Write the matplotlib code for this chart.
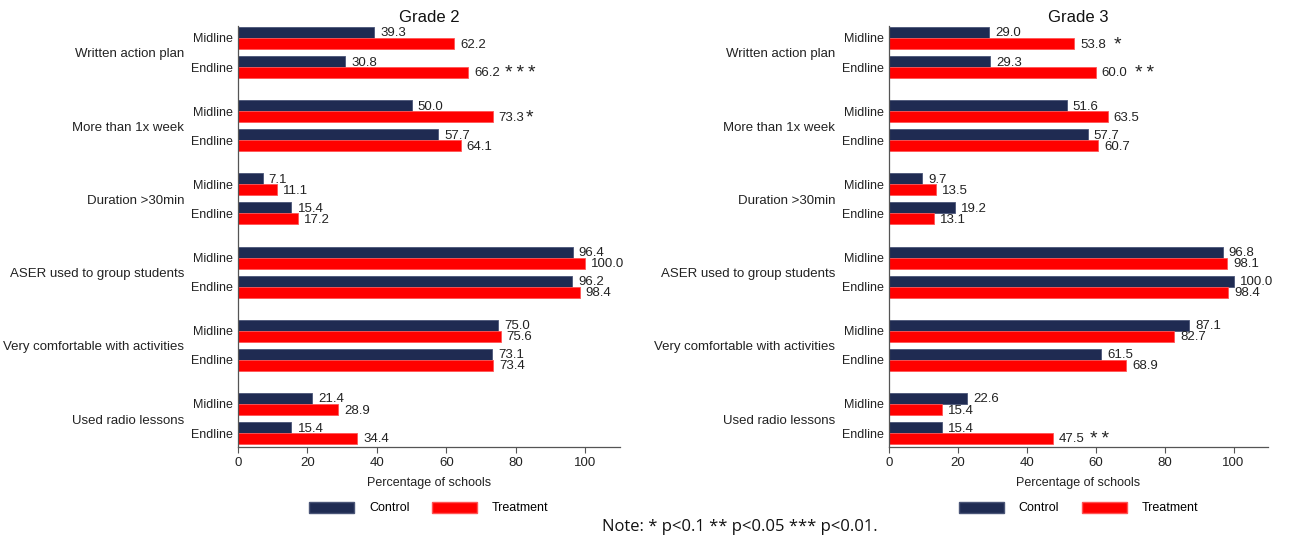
import numpy as np
import matplotlib
matplotlib.use("Agg")
from matplotlib import pyplot as plt

plt.rcParams['font.family'] = ['Liberation Sans', 'DejaVu Sans']

# indicators, top to bottom
indicators = ['Written action plan', 'More than 1x week', 'Duration >30min',
              'ASER used to group students', 'Very comfortable with activities',
              'Used radio lessons']
rounds = ['Midline', 'Endline']

# Grade 2: [midline, endline] per indicator
g2_control = [[39.3, 30.8], [50.0, 57.7], [7.1, 15.4], [96.4, 96.2], [75.0, 73.1], [21.4, 15.4]]
g2_treat = [[62.2, 66.2], [73.3, 64.1], [11.1, 17.2], [100.0, 98.4], [75.6, 73.4], [28.9, 34.4]]
g2_stars = [['', '***'], ['*', ''], ['', ''], ['', ''], ['', ''], ['', '']]

# Grade 3
g3_control = [[29.0, 29.3], [51.6, 57.7], [9.7, 19.2], [96.8, 100.0], [87.1, 61.5], [22.6, 15.4]]
g3_treat = [[53.8, 60.0], [63.5, 60.7], [13.5, 13.1], [98.1, 98.4], [82.7, 68.9], [15.4, 47.5]]
g3_stars = [['*', '**'], ['', ''], ['', ''], ['', ''], ['', ''], ['', '**']]

NAVY = '#1f2b52'
RED = '#ff0000'


def panel(ax, title, control, treat, stars, star_gap):
    h = 11.0
    step = 73.2
    gap = 29.0
    centers = []
    for g in range(len(indicators)):
        for s in range(len(rounds)):
            y = 38 + g * step + s * gap
            centers.append(y)
            c = control[g][s]
            t = treat[g][s]
            ax.barh(y - h / 2, c, height=h, color=NAVY, edgecolor='#4a5577', linewidth=0.6)
            ax.barh(y + h / 2, t, height=h, color=RED, edgecolor='#ff5555', linewidth=0.6)
            ax.annotate(f'{c:.1f}', (c, y - h / 2 + 1), xytext=(6, 0),
                        textcoords='offset pixels', va='center', ha='left',
                        fontsize=9.5, color='#222222')
            ax.annotate(f'{t:.1f}', (t, y + h / 2 + 1), xytext=(6, 0),
                        textcoords='offset pixels', va='center', ha='left',
                        fontsize=9.5, color='#222222')
            if stars[g][s]:
                # stars follow the value, larger and spaced out
                width = 26 if t < 100 else 32
                ax.annotate('\u2009'.join(stars[g][s]), (t, y + h / 2 + 1),
                            xytext=(6 + width + star_gap[g][s], 0),
                            textcoords='offset pixels', va='center', ha='left',
                            fontsize=14, color='#222222')
        ax.annotate(indicators[g], (0, 38 + g * step + gap / 2 + 2),
                    xycoords=('axes fraction', 'data'), xytext=(-54, 0),
                    textcoords='offset pixels', ha='right', va='center',
                    fontsize=9.5, color='#222222')

    ax.set_yticks(centers)
    ax.set_yticklabels(rounds * len(indicators), fontsize=9, color='#222222')
    ax.tick_params(axis='y', length=0, pad=4)
    ax.set_ylim(447, 26)
    ax.set_xlim(0, 110)
    ax.set_xticks([0, 20, 40, 60, 80, 100])
    ax.tick_params(axis='x', length=4, width=0.8, color='#555555', labelsize=9.5,
                   labelcolor='#222222', pad=3)
    for side in ['top', 'right']:
        ax.spines[side].set_visible(False)
    for side in ['left', 'bottom']:
        ax.spines[side].set_color('#555555')
        ax.spines[side].set_linewidth(0.9)
    ax.set_xlabel('Percentage of schools', fontsize=9, color='#222222')
    ax.xaxis.set_label_coords(0.5, -0.072)
    ax.set_title(title, fontsize=12, color='#111111', pad=3)

    handles = [plt.Rectangle((0, 0), 1, 1, facecolor=NAVY, edgecolor='#4a5577'),
               plt.Rectangle((0, 0), 1, 1, facecolor=RED, edgecolor='#ff5555')]
    ax.legend(handles, ['Control', 'Treatment'], ncol=2, loc='center',
              bbox_to_anchor=(0.5, -0.145), frameon=False, fontsize=9,
              handlelength=3.6, handleheight=1.0, handletextpad=1.2,
              columnspacing=1.8)


fig = plt.figure(figsize=(12.9, 5.4), dpi=100)
ax1 = fig.add_axes([238 / 1290, 1 - 447 / 540, 382 / 1290, 421 / 540])
ax2 = fig.add_axes([889 / 1290, 1 - 447 / 540, 379 / 1290, 421 / 540])

panel(ax1, 'Grade 2', g2_control, g2_treat, g2_stars,
      [[0, 5], [1, 0], [0, 0], [0, 0], [0, 0], [0, 0]])
panel(ax2, 'Grade 3', g3_control, g3_treat, g3_stars,
      [[7, 7], [0, 0], [0, 0], [0, 0], [0, 0], [0, 5]])

fig.text(602 / 1290, 1 - 527 / 540, 'Note: * p<0.1 ** p<0.05 *** p<0.01.',
         fontsize=12, family=['Open Sans', 'DejaVu Sans'], va='center', ha='left',
         color='#111111')

fig.savefig('out.png', dpi=100)
